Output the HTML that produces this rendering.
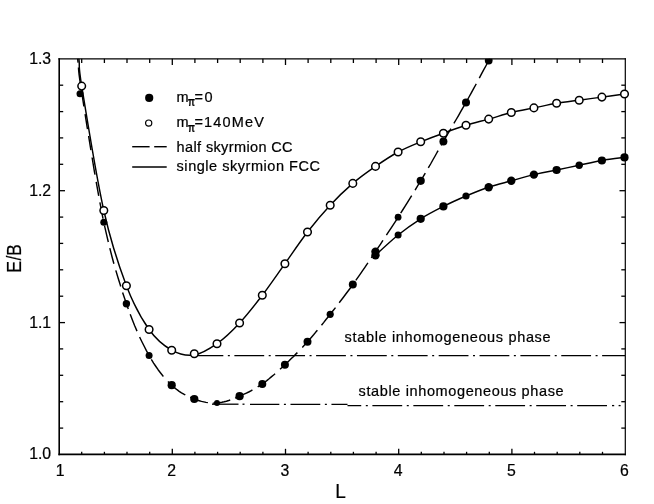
<!DOCTYPE html>
<html><head><meta charset="utf-8"><title>E/B vs L</title>
<style>
html,body{margin:0;padding:0;background:#fff;}
body{width:654px;height:504px;overflow:hidden;font-family:"Liberation Sans",sans-serif;}
svg{display:block;}
text{font-family:"Liberation Sans",sans-serif;fill:#000;stroke:#000;stroke-width:0.22px;}
</style></head><body>
<svg width="654" height="504" viewBox="0 0 654 504">
<defs><clipPath id="plot"><rect x="59.2" y="58.8" width="570.1" height="395.6"/></clipPath></defs>
<rect x="0" y="0" width="654" height="504" fill="#fff"/>
<filter id="soft" x="0" y="0" width="654" height="504" filterUnits="userSpaceOnUse"><feGaussianBlur stdDeviation="0.28"/></filter>
<g filter="url(#soft)">
<g stroke="#000" stroke-width="1.3" fill="none">
<line x1="81.7" y1="58.8" x2="81.7" y2="63.0"/>
<line x1="81.7" y1="454.4" x2="81.7" y2="451.8"/>
<line x1="104.4" y1="58.8" x2="104.4" y2="63.0"/>
<line x1="104.4" y1="454.4" x2="104.4" y2="451.8"/>
<line x1="127.0" y1="58.8" x2="127.0" y2="63.0"/>
<line x1="127.0" y1="454.4" x2="127.0" y2="451.8"/>
<line x1="149.7" y1="58.8" x2="149.7" y2="63.0"/>
<line x1="149.7" y1="454.4" x2="149.7" y2="451.8"/>
<line x1="172.3" y1="58.8" x2="172.3" y2="65.0"/>
<line x1="172.3" y1="454.4" x2="172.3" y2="448.8"/>
<line x1="194.9" y1="58.8" x2="194.9" y2="63.0"/>
<line x1="194.9" y1="454.4" x2="194.9" y2="451.8"/>
<line x1="217.6" y1="58.8" x2="217.6" y2="63.0"/>
<line x1="217.6" y1="454.4" x2="217.6" y2="451.8"/>
<line x1="240.2" y1="58.8" x2="240.2" y2="63.0"/>
<line x1="240.2" y1="454.4" x2="240.2" y2="451.8"/>
<line x1="262.9" y1="58.8" x2="262.9" y2="63.0"/>
<line x1="262.9" y1="454.4" x2="262.9" y2="451.8"/>
<line x1="285.5" y1="58.8" x2="285.5" y2="65.0"/>
<line x1="285.5" y1="454.4" x2="285.5" y2="448.8"/>
<line x1="308.1" y1="58.8" x2="308.1" y2="63.0"/>
<line x1="308.1" y1="454.4" x2="308.1" y2="451.8"/>
<line x1="330.8" y1="58.8" x2="330.8" y2="63.0"/>
<line x1="330.8" y1="454.4" x2="330.8" y2="451.8"/>
<line x1="353.4" y1="58.8" x2="353.4" y2="63.0"/>
<line x1="353.4" y1="454.4" x2="353.4" y2="451.8"/>
<line x1="376.1" y1="58.8" x2="376.1" y2="63.0"/>
<line x1="376.1" y1="454.4" x2="376.1" y2="451.8"/>
<line x1="398.7" y1="58.8" x2="398.7" y2="65.0"/>
<line x1="398.7" y1="454.4" x2="398.7" y2="448.8"/>
<line x1="421.3" y1="58.8" x2="421.3" y2="63.0"/>
<line x1="421.3" y1="454.4" x2="421.3" y2="451.8"/>
<line x1="444.0" y1="58.8" x2="444.0" y2="63.0"/>
<line x1="444.0" y1="454.4" x2="444.0" y2="451.8"/>
<line x1="466.6" y1="58.8" x2="466.6" y2="63.0"/>
<line x1="466.6" y1="454.4" x2="466.6" y2="451.8"/>
<line x1="489.3" y1="58.8" x2="489.3" y2="63.0"/>
<line x1="489.3" y1="454.4" x2="489.3" y2="451.8"/>
<line x1="511.9" y1="58.8" x2="511.9" y2="65.0"/>
<line x1="511.9" y1="454.4" x2="511.9" y2="448.8"/>
<line x1="534.5" y1="58.8" x2="534.5" y2="63.0"/>
<line x1="534.5" y1="454.4" x2="534.5" y2="451.8"/>
<line x1="557.2" y1="58.8" x2="557.2" y2="63.0"/>
<line x1="557.2" y1="454.4" x2="557.2" y2="451.8"/>
<line x1="579.8" y1="58.8" x2="579.8" y2="63.0"/>
<line x1="579.8" y1="454.4" x2="579.8" y2="451.8"/>
<line x1="602.5" y1="58.8" x2="602.5" y2="63.0"/>
<line x1="602.5" y1="454.4" x2="602.5" y2="451.8"/>
<line x1="59.2" y1="85.2" x2="63.2" y2="85.2"/>
<line x1="625.3" y1="85.2" x2="621.3" y2="85.2"/>
<line x1="59.2" y1="111.6" x2="63.2" y2="111.6"/>
<line x1="625.3" y1="111.6" x2="621.3" y2="111.6"/>
<line x1="59.2" y1="137.9" x2="63.2" y2="137.9"/>
<line x1="625.3" y1="137.9" x2="621.3" y2="137.9"/>
<line x1="59.2" y1="164.3" x2="63.2" y2="164.3"/>
<line x1="625.3" y1="164.3" x2="621.3" y2="164.3"/>
<line x1="59.2" y1="190.7" x2="65.0" y2="190.7"/>
<line x1="625.3" y1="190.7" x2="619.5" y2="190.7"/>
<line x1="59.2" y1="217.1" x2="63.2" y2="217.1"/>
<line x1="625.3" y1="217.1" x2="621.3" y2="217.1"/>
<line x1="59.2" y1="243.4" x2="63.2" y2="243.4"/>
<line x1="625.3" y1="243.4" x2="621.3" y2="243.4"/>
<line x1="59.2" y1="269.8" x2="63.2" y2="269.8"/>
<line x1="625.3" y1="269.8" x2="621.3" y2="269.8"/>
<line x1="59.2" y1="296.2" x2="63.2" y2="296.2"/>
<line x1="625.3" y1="296.2" x2="621.3" y2="296.2"/>
<line x1="59.2" y1="322.6" x2="65.0" y2="322.6"/>
<line x1="625.3" y1="322.6" x2="619.5" y2="322.6"/>
<line x1="59.2" y1="348.9" x2="63.2" y2="348.9"/>
<line x1="625.3" y1="348.9" x2="621.3" y2="348.9"/>
<line x1="59.2" y1="375.3" x2="63.2" y2="375.3"/>
<line x1="625.3" y1="375.3" x2="621.3" y2="375.3"/>
<line x1="59.2" y1="401.7" x2="63.2" y2="401.7"/>
<line x1="625.3" y1="401.7" x2="621.3" y2="401.7"/>
<line x1="59.2" y1="428.1" x2="63.2" y2="428.1"/>
<line x1="625.3" y1="428.1" x2="621.3" y2="428.1"/>
</g>
<g stroke="#000" fill="none">
<line x1="59.2" y1="58.2" x2="59.2" y2="455.2" stroke-width="1.6"/>
<line x1="58.4" y1="454.4" x2="625.9" y2="454.4" stroke-width="1.7"/>
<line x1="58.4" y1="58.8" x2="625.9" y2="58.8" stroke-width="1.2"/>
<line x1="625.3" y1="58.2" x2="625.3" y2="455.2" stroke-width="1.2"/>
</g>
<g stroke="#000" stroke-width="1.3" fill="none">
<line x1="196.0" y1="355.6" x2="625.0" y2="355.6" stroke-dasharray="29.80 4.53 2.00 4.53" stroke-dashoffset="2.48"/>
<line x1="250.0" y1="404.3" x2="347.5" y2="404.3" stroke-dasharray="29.80 4.58 2.00 4.58" stroke-dashoffset="0.47"/>
<line x1="347.5" y1="405.6" x2="608.0" y2="405.6" stroke-dasharray="29.80 4.58 2.00 4.58" stroke-dashoffset="16.07"/>
<line x1="212" y1="404.2" x2="238.5" y2="404.2"/>
<line x1="242.5" y1="404.2" x2="244.5" y2="404.2"/>
<line x1="612.0" y1="405.6" x2="614.2" y2="405.6"/>
<line x1="618.6" y1="405.6" x2="620.6" y2="405.6"/>
</g>
<g stroke="#000" stroke-width="1.45" fill="none" stroke-linejoin="round" clip-path="url(#plot)">
<path d="M73.2 23.0L73.7 26.7L74.2 30.8L74.7 35.3L75.3 39.9L75.3 39.9M76.0 45.5L76.6 50.1L77.1 54.5L77.6 58.5L78.0 61.8L78.1 62.7M78.5 67.5L78.6 69.5L78.8 71.8L79.1 74.7L79.6 78.5L80.3 83.4L80.5 84.4M81.3 89.8L82.6 98.1L83.9 106.5M85.1 114.2L87.1 126.9L87.5 129.1M88.6 136.0L90.9 150.2L90.9 150.2M92.1 157.5L94.5 172.1L95.0 174.6M96.2 181.8L98.7 195.8L98.7 195.8M99.9 202.4L102.3 214.8L103.0 218.6M104.5 225.7L106.8 235.6L108.3 242.0M109.8 248.1L112.0 256.8L113.9 263.7M115.8 270.4L118.1 278.0L120.4 285.3L120.7 286.5M122.6 292.4L124.9 299.2L127.2 305.9L128.3 309.1M130.2 314.3L132.5 320.2L134.7 325.8L137.0 331.1L137.0 331.1M139.6 337.0L141.9 341.7L144.2 346.3L146.4 350.6L148.3 354.1M151.3 359.4L153.6 363.1L155.9 366.5L158.1 369.7L160.4 372.7L162.6 375.5L163.4 376.4M167.9 381.4L170.2 383.7L172.5 385.9L174.7 387.9L177.0 389.7L179.2 391.3L181.5 392.8L183.8 394.1L185.3 394.9M190.2 397.3L192.5 398.2L194.7 399.1L197.0 400.0L199.2 400.7L201.5 401.4L203.8 401.9L206.0 402.4L207.9 402.6M212.8 403.1L215.1 403.1L217.4 403.0L219.6 402.7L221.9 402.3L224.1 401.8L226.4 401.2L228.7 400.5L230.2 400.0M235.1 398.1L237.4 397.2L239.6 396.2L241.9 395.2L244.1 394.2L246.4 393.1L248.7 392.0L250.9 390.8L252.4 390.0M257.7 386.9L260.0 385.4L262.3 383.9L264.5 382.3L266.8 380.6L269.1 378.8L271.3 376.9L273.6 375.0L275.1 373.7M280.0 369.2L282.3 367.2L284.5 365.1L286.8 362.9L289.1 360.8L291.3 358.6L293.6 356.4L295.8 354.1L297.4 352.6M302.3 347.4L304.5 345.0L306.8 342.5L309.0 340.0L311.3 337.4L313.6 334.8L315.8 332.1L317.4 330.3M321.5 325.2L323.8 322.4L326.0 319.5L328.3 316.7L330.6 313.8L332.8 311.0L335.1 308.1L335.5 307.6M339.2 302.7L341.5 299.8L343.8 296.8L346.0 293.8L348.3 290.8L350.6 287.7L352.4 285.1M355.8 280.4L358.1 277.2L360.4 273.9L362.6 270.6L364.9 267.3L367.2 263.9L367.9 262.8M371.3 257.8L373.6 254.4L375.8 251.0L378.1 247.7L380.4 244.3L382.6 240.9L383.0 240.3M386.4 235.2L388.7 231.7L390.9 228.3L393.2 224.8L395.5 221.3L397.7 217.8L397.7 217.8M400.7 213.1L403.0 209.5L405.3 205.9L407.5 202.3L409.8 198.7L411.7 195.7M415.1 190.2L417.3 186.4L419.6 182.7L421.9 178.9L424.1 175.1L425.3 173.1M428.3 167.9L430.6 164.0L432.8 160.0L435.1 156.0L437.3 152.0L438.1 150.7M441.1 145.4L443.4 141.5L445.6 137.6L447.9 133.7L450.2 129.8L450.9 128.6M453.9 123.4L456.2 119.5L458.5 115.6L460.7 111.7L463.0 107.7L464.1 105.8M466.8 101.0L469.0 97.0L471.3 92.8L473.6 88.7L475.9 84.5L476.3 83.8M479.3 78.1L481.5 73.9L483.8 69.7L486.1 65.5L488.3 61.3L488.3 61.3M491.4 55.5L493.8 50.8L496.4 46.0L498.9 41.1L500.2 38.8M503.0 33.4L505.2 29.1L507.2 25.2L509.0 22.0L510.3 19.4L510.5 19.0"/>
<path d="M375.5 255.2 C379.2 251.8 390.6 241.1 398.1 235.0 C405.6 228.9 413.2 223.6 420.7 218.8 C428.3 214.0 435.8 210.2 443.4 206.4 C450.9 202.6 458.5 199.2 466.0 196.0 C473.6 192.8 481.1 189.7 488.7 187.2 C496.2 184.7 503.8 182.9 511.3 180.8 C518.8 178.7 526.4 176.4 533.9 174.6 C541.5 172.8 549.0 171.6 556.6 170.0 C564.1 168.4 571.7 166.8 579.2 165.2 C586.8 163.6 594.3 161.8 601.9 160.5 C609.4 159.2 620.7 157.9 624.5 157.4"/>
<path d="M73.7 18.0 C74.6 24.8 77.6 47.1 78.9 58.5 C80.2 69.8 77.6 60.8 81.7 86.1 C85.8 111.4 96.3 177.2 103.8 210.5 C111.2 243.8 118.9 265.9 126.4 285.7 C134.0 305.5 141.5 318.8 149.1 329.5 C156.6 340.2 164.2 345.9 171.7 350.2 C179.2 354.4 186.8 356.1 194.3 355.0 C201.9 353.9 209.4 349.0 217.0 343.7 C224.5 338.4 232.1 331.1 239.6 323.0 C247.2 314.9 254.7 305.2 262.3 295.3 C269.8 285.4 277.4 274.2 284.9 263.7 C292.4 253.1 300.0 241.8 307.5 232.0 C315.1 222.2 322.6 213.3 330.2 205.2 C337.7 197.1 345.3 189.9 352.8 183.4 C360.4 176.9 367.9 171.6 375.5 166.4 C383.0 161.2 390.6 156.1 398.1 152.0 C405.6 147.9 413.2 144.9 420.7 141.8 C428.3 138.7 435.8 135.9 443.4 133.2 C450.9 130.4 458.5 127.6 466.0 125.3 C473.6 123.0 481.1 121.2 488.7 119.1 C496.2 117.0 503.8 114.4 511.3 112.5 C518.8 110.6 526.4 109.4 533.9 107.9 C541.5 106.4 549.0 104.6 556.6 103.3 C564.1 102.0 571.7 101.2 579.2 100.2 C586.8 99.2 594.3 98.1 601.9 97.1 C609.4 96.1 620.7 94.5 624.5 94.0"/>
</g>
<g fill="#000" stroke="none" clip-path="url(#plot)">
<circle cx="80.0" cy="93.7" r="3.5"/>
<circle cx="103.8" cy="222.2" r="3.5"/>
<circle cx="126.4" cy="303.7" r="3.7"/>
<circle cx="149.1" cy="355.5" r="3.5"/>
<circle cx="171.7" cy="385.2" r="4.1"/>
<circle cx="194.3" cy="399.0" r="4.1"/>
<circle cx="217.0" cy="403.0" r="3.0"/>
<circle cx="239.6" cy="396.2" r="4.1"/>
<circle cx="262.3" cy="383.9" r="4.0"/>
<circle cx="284.9" cy="364.7" r="4.0"/>
<circle cx="307.5" cy="341.7" r="4.0"/>
<circle cx="330.2" cy="314.3" r="3.6"/>
<circle cx="352.8" cy="284.6" r="4.0"/>
<circle cx="375.5" cy="251.6" r="4.2"/>
<circle cx="398.1" cy="217.2" r="3.4"/>
<circle cx="420.7" cy="180.8" r="4.1"/>
<circle cx="443.4" cy="141.5" r="4.0"/>
<circle cx="466.0" cy="102.4" r="4.0"/>
<circle cx="488.7" cy="60.6" r="3.9"/>
<circle cx="375.5" cy="255.2" r="4.2"/>
<circle cx="398.1" cy="235.0" r="3.5"/>
<circle cx="420.7" cy="218.8" r="4.1"/>
<circle cx="443.4" cy="206.4" r="4.1"/>
<circle cx="466.0" cy="196.0" r="3.6"/>
<circle cx="488.7" cy="187.2" r="4.2"/>
<circle cx="511.3" cy="180.8" r="4.2"/>
<circle cx="533.9" cy="174.6" r="4.2"/>
<circle cx="556.6" cy="170.0" r="4.1"/>
<circle cx="579.2" cy="165.2" r="3.7"/>
<circle cx="601.9" cy="160.5" r="4.1"/>
<circle cx="624.5" cy="157.4" r="4.1"/>
</g>
<g fill="#fff" stroke="#000" stroke-width="1.5">
<circle cx="81.7" cy="86.1" r="3.8"/>
<circle cx="103.8" cy="210.5" r="3.8"/>
<circle cx="126.4" cy="285.7" r="3.8"/>
<circle cx="149.1" cy="329.5" r="3.8"/>
<circle cx="171.7" cy="350.2" r="3.8"/>
<circle cx="194.3" cy="353.8" r="3.8"/>
<circle cx="217.0" cy="343.7" r="3.8"/>
<circle cx="239.6" cy="323.0" r="3.8"/>
<circle cx="262.3" cy="295.3" r="3.8"/>
<circle cx="284.9" cy="263.7" r="3.8"/>
<circle cx="307.5" cy="232.0" r="3.8"/>
<circle cx="330.2" cy="205.2" r="3.8"/>
<circle cx="352.8" cy="183.4" r="3.8"/>
<circle cx="375.5" cy="166.4" r="3.8"/>
<circle cx="398.1" cy="152.0" r="3.8"/>
<circle cx="420.7" cy="141.8" r="3.8"/>
<circle cx="443.4" cy="133.2" r="3.8"/>
<circle cx="466.0" cy="125.3" r="3.8"/>
<circle cx="488.7" cy="119.1" r="3.8"/>
<circle cx="511.3" cy="112.5" r="3.8"/>
<circle cx="533.9" cy="107.9" r="3.8"/>
<circle cx="556.6" cy="103.3" r="3.8"/>
<circle cx="579.2" cy="100.2" r="3.8"/>
<circle cx="601.9" cy="97.1" r="3.8"/>
<circle cx="624.5" cy="94.0" r="3.8"/>
</g>
<g font-size="15.8px">
<text x="51.1" y="64.0" text-anchor="end">1.3</text>
<text x="51.1" y="196.0" text-anchor="end">1.2</text>
<text x="51.1" y="327.8" text-anchor="end">1.1</text>
<text x="51.1" y="459.0" text-anchor="end">1.0</text>
<text x="60.1" y="475.6" text-anchor="middle">1</text>
<text x="171.7" y="475.6" text-anchor="middle">2</text>
<text x="284.9" y="475.6" text-anchor="middle">3</text>
<text x="398.1" y="475.6" text-anchor="middle">4</text>
<text x="511.3" y="475.6" text-anchor="middle">5</text>
<text x="624.5" y="475.6" text-anchor="middle">6</text>
</g>
<text transform="translate(335.2,497.5) scale(0.94,1)" font-size="20.2px">L</text>
<g font-size="19.6px">
<text transform="translate(20.8,272.9) rotate(-90) scale(0.93,1)">E</text>
<text transform="translate(20.8,260.4) rotate(-90) scale(0.88,1)">/</text>
<text transform="translate(20.8,255.8) rotate(-90) scale(0.88,1)">B</text>
</g>
<circle cx="149.2" cy="97.9" r="4.1" fill="#000"/>
<circle cx="148.7" cy="123.1" r="3.1" fill="#fff" stroke="#000" stroke-width="1.2"/>
<g stroke="#000" stroke-width="1.45">
<line x1="132.2" y1="146.7" x2="149.6" y2="146.7"/>
<line x1="154.2" y1="146.7" x2="166.7" y2="146.7"/>
<line x1="132.2" y1="167.0" x2="166.7" y2="167.0"/>
</g>
<g font-size="14.5px">
<text x="176.6" y="101.9">m</text><text transform="translate(188.0,106.3) scale(0.72,1)" font-size="12.5px" font-weight="bold">π</text><text x="194.4" y="101.9" textLength="18.2" lengthAdjust="spacing">=0</text>
<text x="176.6" y="127.1">m</text><text transform="translate(188.0,131.5) scale(0.72,1)" font-size="12.5px" font-weight="bold">π</text><text x="194.4" y="127.1" textLength="69.6" lengthAdjust="spacing">=140MeV</text>
<text x="176.6" y="151.7" textLength="116" lengthAdjust="spacing">half skyrmion CC</text>
<text x="176.6" y="170.9" textLength="143.3" lengthAdjust="spacing">single skyrmion FCC</text>
<text x="344.6" y="341.9" textLength="206" lengthAdjust="spacing">stable inhomogeneous phase</text>
<text x="358.6" y="395.9" textLength="205" lengthAdjust="spacing">stable inhomogeneous phase</text>
</g>
</g>
</svg>
</body></html>
